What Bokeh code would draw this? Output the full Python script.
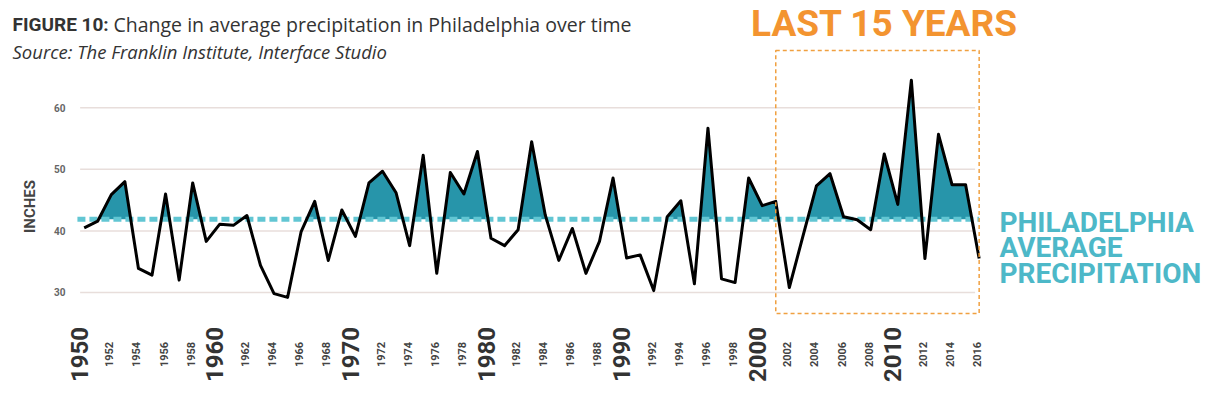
from math import pi
from bokeh.plotting import figure
from bokeh.models import Range1d, Label
from bokeh.core.properties import value
from bokeh.embed import file_html
from bokeh.resources import INLINE

# ---------------- data ----------------
years = list(range(1950, 2017))
precip = [40.5, 41.6, 45.9, 48.0, 33.9, 32.8, 46.0, 32.0, 47.8, 38.3,
          41.1, 40.9, 42.5, 34.4, 29.8, 29.2, 39.9, 44.8, 35.2, 43.4,
          39.1, 47.8, 49.7, 46.2, 37.6, 52.3, 33.1, 49.5, 46.0, 52.9,
          38.8, 37.6, 40.2, 54.5, 42.6, 35.2, 40.4, 33.1, 38.3, 48.6,
          35.6, 36.1, 30.3, 42.3, 44.9, 31.4, 56.7, 32.2, 31.6, 48.6,
          44.1, 44.8, 30.8, 39.1, 47.3, 49.3, 42.3, 41.8, 40.2, 52.5,
          44.3, 64.5, 35.5, 55.7, 47.5, 47.5, 35.5]
average = 41.9
y_ticks = [30, 40, 50, 60]
y_tick_labels = [str(v) for v in y_ticks]
decade_years = [1950, 1960, 1970, 1980, 1990, 2000, 2010]
decade_labels = [str(y) for y in decade_years]
minor_years = [y for y in range(1952, 2017, 2) if y % 10 != 0]
minor_labels = [str(y) for y in minor_years]
recent_start = years[-16]   # last 15 years box starts here

# ---------------- layout helpers (page pixels -> data) ----------------
W, H = 1224, 408
X0_PX, X_PER_YR, X0_YR = 83.7, 13.56, 1950.0
Y40_PX, Y_PER_IN = 230.4, 6.153

def X(px):
    return X0_YR + (px - X0_PX) / X_PER_YR

def Y(py):
    return 40 + (Y40_PX - py) / Y_PER_IN

p = figure(width=W, height=H, output_backend="svg", toolbar_location=None,
           title=None, x_axis_location=None, y_axis_location=None,
           x_range=Range1d(X(0), X(W)), y_range=Range1d(Y(H), Y(0)),
           min_border_left=0, min_border_right=0, min_border_top=0, min_border_bottom=0)
p.outline_line_color = None
p.xgrid.visible = False
p.ygrid.visible = False
p.background_fill_color = "white"
p.border_fill_color = "white"

# grid lines
p.segment(x0=[years[0] - 0.3] * len(y_ticks), x1=[years[-1] - 0.3] * len(y_ticks),
          y0=y_ticks, y1=y_ticks, line_color="#e8dedb", line_width=1.5)

# y tick labels and axis title
p.text(x=[X(65)] * len(y_ticks), y=y_ticks, text=y_tick_labels, text_align="right",
       text_baseline="middle", text_font=value("Roboto"), text_font_style="bold",
       text_font_size="10px", text_color="#666666")
p.text(x=[X(29)], y=[Y(206)], text=["INCHES"], angle=pi / 2, text_align="center",
       text_baseline="middle", text_font=value("Roboto"), text_font_style="bold",
       text_font_size="15px", text_color="#444444")

# fill above average
fx, fy = [], []
for i in range(len(years)):
    if i > 0:
        a, b = precip[i - 1], precip[i]
        if (a - average) * (b - average) < 0:
            t = (average - a) / (b - a)
            fx.append(years[i - 1] + t)
            fy.append(average)
    fx.append(years[i])
    fy.append(max(precip[i], average))
p.varea(x=fx, y1=[average] * len(fx), y2=fy, fill_color="#2795aa")

# average dashed line
p.line(x=[years[0] - 0.5, years[-1]], y=[average, average], line_color="#62c6d3",
       line_width=5, line_dash="8 4")

# precipitation line
p.line(x=years, y=precip, line_color="black", line_width=3, line_join="round")

# last 15 years box
p.quad(left=[recent_start], right=[years[-1]], top=[Y(50)], bottom=[Y(313)],
       fill_color=None, line_color="#f0a040", line_width=1.5, line_dash="4 3")

# x labels
p.text(x=decade_years, y=[Y(354)] * len(decade_years), text=decade_labels, angle=pi / 2,
       text_align="center", text_baseline="middle", text_font=value("Roboto"),
       text_font_style="bold", text_font_size="24px", text_color="#333333", x_offset=-5)
p.text(x=minor_years, y=[Y(354)] * len(minor_years), text=minor_labels, angle=pi / 2,
       text_align="center", text_baseline="middle", text_font=value("Roboto"),
       text_font_style="bold", text_font_size="11px", text_color="#444444", x_offset=-2)

# titles and annotations
p.add_layout(Label(x=X(12), y=Y(24), text="FIGURE 10:", text_font="Roboto",
                   text_font_style="bold", text_font_size="19px", text_color="#333333",
                   text_baseline="alphabetic"))
p.add_layout(Label(x=X(113), y=Y(24), text="Change in average precipitation in Philadelphia over time",
                   text_font="Open Sans", text_font_size="19.5px", text_color="#333333",
                   text_baseline="alphabetic"))
p.add_layout(Label(x=X(12), y=Y(51), text="Source: The Franklin Institute, Interface Studio",
                   text_font="Open Sans", text_font_style="italic", text_font_size="18.5px",
                   text_color="#333333", text_baseline="alphabetic"))
p.add_layout(Label(x=X(884), y=Y(23), text="LAST 15 YEARS", text_font="Roboto",
                   text_font_style="bold", text_font_size="37px", text_color="#f39430",
                   text_align="center", text_baseline="alphabetic"))
for txt, base in [("PHILADELPHIA", 222), ("AVERAGE", 247), ("PRECIPITATION", 273)]:
    p.add_layout(Label(x=X(999), y=Y(base), text=txt, text_font="Roboto",
                       text_font_style="bold", text_font_size="28px", text_color="#4db8c8",
                       text_baseline="alphabetic"))

open("out.html", "w").write(file_html(p, INLINE))
